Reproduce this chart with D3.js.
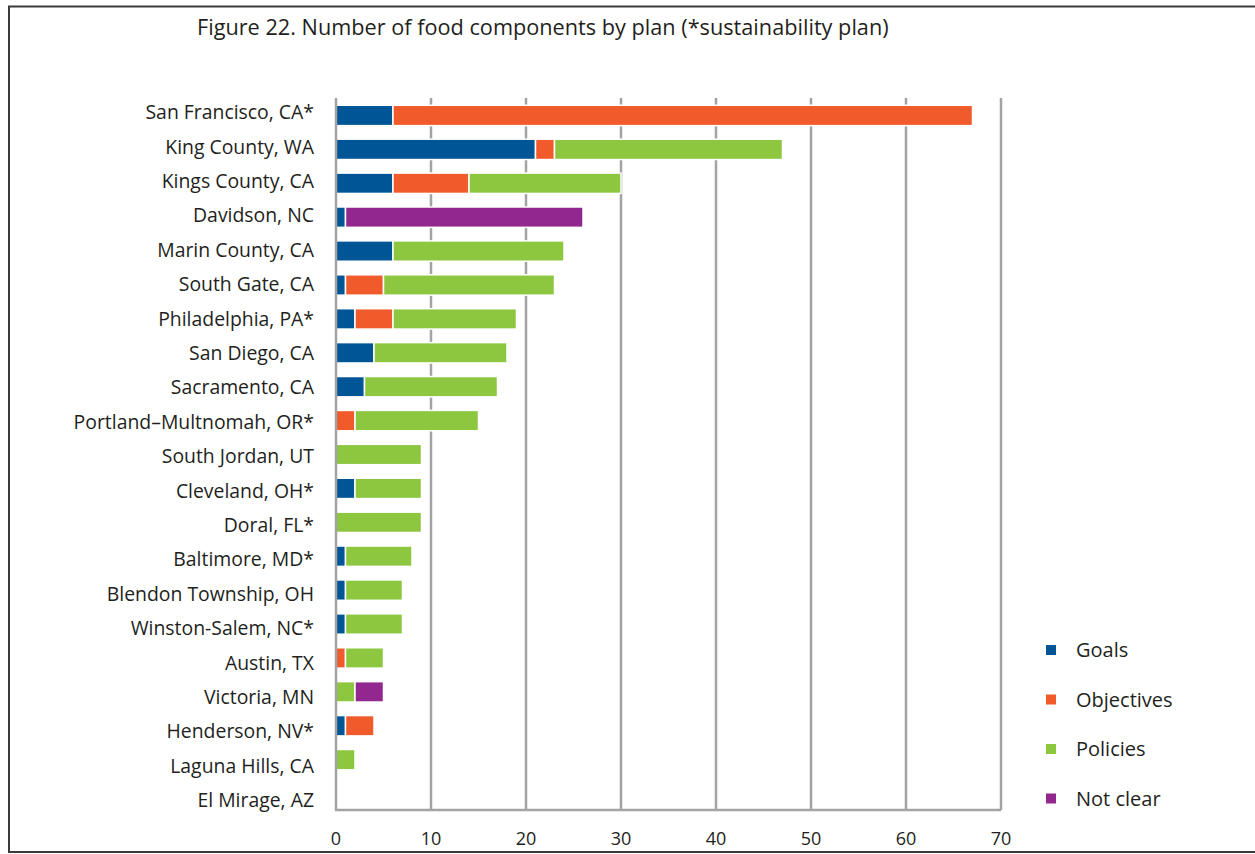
<!DOCTYPE html>
<html>

<head>
    <style>
        body {
            margin: 0;
            background: #fff;
        }

        text {
            font-family: "Open Sans", "Noto Sans", sans-serif;
            fill: #231f20;
        }

        .cat-label {
            font-size: 19.4px;
            text-anchor: end;
        }

        .tick-label {
            font-size: 18px;
            text-anchor: middle;
        }

        .legend-label {
            font-size: 20px;
        }
    </style>
    <script src="https://d3js.org/d3.v7.min.js"></script>
</head>

<body>
    <svg width="1255" height="854"></svg>
    <script>
        // plans, top to bottom
        var plans = ["San Francisco, CA*", "King County, WA", "Kings County, CA", "Davidson, NC",
            "Marin County, CA", "South Gate, CA", "Philadelphia, PA*", "San Diego, CA", "Sacramento, CA",
            "Portland\u2013Multnomah, OR*", "South Jordan, UT", "Cleveland, OH*", "Doral, FL*",
            "Baltimore, MD*", "Blendon Township, OH", "Winston-Salem, NC*", "Austin, TX",
            "Victoria, MN", "Henderson, NV*", "Laguna Hills, CA", "El Mirage, AZ"];

        var goals      = [6, 21, 6, 1, 6, 1, 2, 4, 3, 0, 0, 2, 0, 1, 1, 1, 0, 0, 1, 0, 0];
        var objectives = [61, 2, 8, 0, 0, 4, 4, 0, 0, 2, 0, 0, 0, 0, 0, 0, 1, 0, 3, 0, 0];
        var policies   = [0, 24, 16, 0, 18, 18, 13, 14, 14, 13, 9, 7, 9, 7, 6, 6, 4, 2, 0, 2, 0];
        var notClear   = [0, 0, 0, 25, 0, 0, 0, 0, 0, 0, 0, 0, 0, 0, 0, 0, 0, 3, 0, 0, 0];

        var seriesNames = ["Goals", "Objectives", "Policies", "Not clear"];
        var seriesColors = ["#005596", "#f15a2b", "#8dc63f", "#92278f"];
        var xTicks = [0, 10, 20, 30, 40, 50, 60, 70];

        var rows = plans.map(function (p, i) {
            return { plan: p, "Goals": goals[i], "Objectives": objectives[i], "Policies": policies[i], "Not clear": notClear[i] };
        });

        var svg = d3.select("svg");

        // frame
        svg.append("path")
            .attr("d", "M1260,6.5 H9 V852 H1260")
            .attr("fill", "none")
            .attr("stroke", "#3a3a3a")
            .attr("stroke-width", 2);

        svg.append("text")
            .attr("x", 197)
            .attr("y", 35)
            .attr("font-size", "21.7px")
            .text("Figure 22. Number of food components by plan (*sustainability plan)");

        var x = d3.scaleLinear().domain([0, 70]).range([336, 1001]);
        var y = d3.scaleBand().domain(plans).range([98.5, 810.5]).paddingInner(0.4).paddingOuter(0.2);
        // labels sit on a slightly longer grid than the bars
        var yLabel = d3.scalePoint().domain(plans).range([113, 801]);

        // gridlines
        svg.append("g").selectAll("line")
            .data(xTicks.slice(1))
            .enter().append("line")
            .attr("x1", function (d) { return x(d); })
            .attr("x2", function (d) { return x(d); })
            .attr("y1", 98)
            .attr("y2", 810)
            .attr("stroke", "#a3a3a3")
            .attr("stroke-width", 2.5);

        var stack = d3.stack().keys(seriesNames);
        var layers = stack(rows);

        svg.append("g").selectAll("g")
            .data(layers)
            .enter().append("g")
            .attr("fill", function (d, i) { return seriesColors[i]; })
            .selectAll("rect")
            .data(function (d) { return d.filter(function (s) { return s[1] - s[0] > 0; }); })
            .enter().append("rect")
            .attr("x", function (d) { return x(d[0]); })
            .attr("y", function (d) { return y(d.data.plan); })
            .attr("width", function (d) { return x(d[1]) - x(d[0]); })
            .attr("height", y.bandwidth())
            .attr("stroke", "#fff")
            .attr("stroke-width", 1.5);

        // axis lines
        svg.append("path")
            .attr("d", "M" + x(0) + ",98 V810 H" + x(70))
            .attr("fill", "none")
            .attr("stroke", "#a3a3a3")
            .attr("stroke-width", 2.5);

        svg.append("g").selectAll("text")
            .data(xTicks)
            .enter().append("text")
            .attr("class", "tick-label")
            .attr("x", function (d) { return x(d); })
            .attr("y", 845)
            .text(function (d) { return d; });

        svg.append("g").selectAll("text")
            .data(plans)
            .enter().append("text")
            .attr("class", "cat-label")
            .attr("x", 314)
            .attr("y", function (d) { return yLabel(d); })
            .attr("dy", "0.32em")
            .text(function (d) { return d; });

        // legend
        var legend = svg.append("g").selectAll("g")
            .data(seriesNames)
            .enter().append("g")
            .attr("transform", function (d, i) { return "translate(1046," + (650 + i * 49.5) + ")"; });

        legend.append("rect")
            .attr("x", 0)
            .attr("y", -5)
            .attr("width", 10)
            .attr("height", 10)
            .attr("fill", function (d, i) { return seriesColors[i]; });

        legend.append("text")
            .attr("class", "legend-label")
            .attr("x", 30)
            .attr("dy", "0.35em")
            .text(function (d) { return d; });
    </script>
</body>

</html>
